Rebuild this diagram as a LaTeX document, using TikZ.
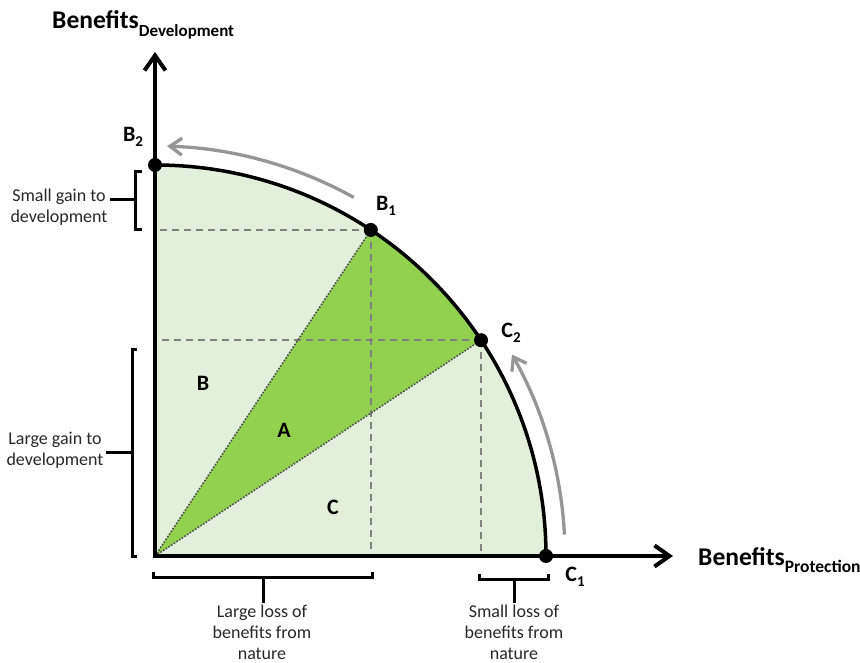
\documentclass[tikz,border=0pt]{standalone}
\usepackage{fontspec}
\setmainfont{Carlito}
\usetikzlibrary{arrows.meta,calc}
\definecolor{lightg}{RGB}{226,239,218}
\definecolor{darkg}{RGB}{146,208,80}
\definecolor{dashg}{RGB}{128,128,128}
\definecolor{arrg}{RGB}{150,150,150}
\definecolor{txt}{RGB}{40,40,40}
\begin{document}
\begin{tikzpicture}[x=1pt,y=1pt,
  axisline/.style={line width=4pt,-{Straight Barb[length=15pt,width=21pt,line width=4pt]}},
  frontier/.style={line width=3.5pt},
  guide/.style={dashg,line width=2pt,dash pattern=on 7pt off 5pt},
  ray/.style={black!70,line width=1.6pt,dash pattern=on 1.6pt off 1.6pt},
  movearrow/.style={arrg,line width=3.3pt,-{Straight Barb[length=12pt,width=17pt,line width=3.3pt]}},
  dot/.style={circle,fill=black,inner sep=0pt,minimum size=14pt},
  ptlabel/.style={font=\fontsize{22}{22}\bfseries\selectfont,inner sep=0pt},
  arealabel/.style={font=\fontsize{22}{22}\bfseries\selectfont,inner sep=0pt},
  axlabel/.style={font=\fontsize{25.5}{25.5}\bfseries\selectfont,inner sep=0pt,anchor=west},
  note/.style={font=\fontsize{18}{21}\selectfont,text=txt,align=center,inner sep=0pt},
  brk/.style={line width=3pt,line cap=butt,line join=miter}
]
\useasboundingbox (0,0) rectangle (860,663);
\coordinate (O) at (155,107);
\coordinate (B2) at (155,498);
\coordinate (C1) at (546,107);
\coordinate (B1) at ($(O)+(56.5:391)$);
\coordinate (C2) at ($(O)+(33.5:391)$);
\coordinate (Ytop) at (155,611);
\coordinate (Xend) at (673,107);
% fills
\fill[lightg] (O) -- (C1) arc[start angle=0,end angle=90,radius=391] -- cycle;
\fill[darkg] (O) -- (C2) arc[start angle=33.5,end angle=56.5,radius=391] -- cycle;
% guides
\draw[guide] (B1) -- (B1 -| O);
\draw[guide] (B1) -- (B1 |- O);
\draw[guide] (C2) -- (C2 -| O);
\draw[guide] (C2) -- (C2 |- O);
% rays
\draw[ray] (O) -- (B1);
\draw[ray] (O) -- (C2);
% frontier
\draw[frontier] (B2) arc[start angle=90,end angle=0,radius=391];
% axes
\draw[axisline] ($(O)+(0,-2)$) -- (Ytop);
\draw[axisline] ($(O)+(-2,0)$) -- (Xend);
% movement arrows
\coordinate (m1s) at ($(O)+(61:410)$);
\coordinate (m2s) at ($(O)+(3:410)$);
\draw[movearrow] (m1s) arc[start angle=61,end angle=88.3,radius=410];
\draw[movearrow] (m2s) arc[start angle=3,end angle=29.5,radius=409];
% dots
\node[dot] (dB2) at (B2) {};
\node[dot] (dB1) at (B1) {};
\node[dot] (dC2) at (C2) {};
\node[dot] (dC1) at (C1) {};
% point labels
\node[ptlabel] (lB2) at (133,526) {B\raisebox{-0.25em}{\fontsize{15}{15}\selectfont 2}};
\node[ptlabel] (lB1) at (386,457) {B\raisebox{-0.25em}{\fontsize{15}{15}\selectfont 1}};
\node[ptlabel] (lC2) at (511,330) {C\raisebox{-0.25em}{\fontsize{15}{15}\selectfont 2}};
\node[ptlabel] (lC1) at (575,86) {C\raisebox{-0.25em}{\fontsize{15}{15}\selectfont 1}};
% axis labels
\node[axlabel] (ly) at (52,638) {Benefits\raisebox{-0.3em}{\fontsize{17}{17}\selectfont Development}};
\node[axlabel] (lx) at (698,103) {Benefits\raisebox{-0.3em}{\fontsize{17.5}{17.5}\selectfont Protection}};
% area labels
\node[arealabel] (lB) at (203,280) {B};
\node[arealabel] (lA) at (284,233) {A};
\node[arealabel] (lC) at (333,156) {C};
% brackets
\draw[brk] (142,491) -- (135,491) -- (135,433) -- (142,433);
\draw[brk] (135,463) -- (110,463);
\draw[brk] (137,313) -- (132,313) -- (132,106) -- (137,106);
\draw[brk] (132,210) -- (106,210);
\draw[brk] (153,91) -- (153,85) -- (372,85) -- (372,91);
\draw[brk] (263,85) -- (263,60);
\draw[brk] (479,89) -- (479,83) -- (548,83) -- (548,89);
\draw[brk] (514,83) -- (514,60);
% notes
\node[note] (nSG) at (59,456) {Small gain to\\development};
\node[note] (nLG) at (55,213) {Large gain to\\development};
\node[note] (nLL) at (262,31) {Large loss of\\benefits from\\nature};
\node[note] (nSL) at (514,31) {Small loss of\\benefits from\\nature};
\end{tikzpicture}
\end{document}
